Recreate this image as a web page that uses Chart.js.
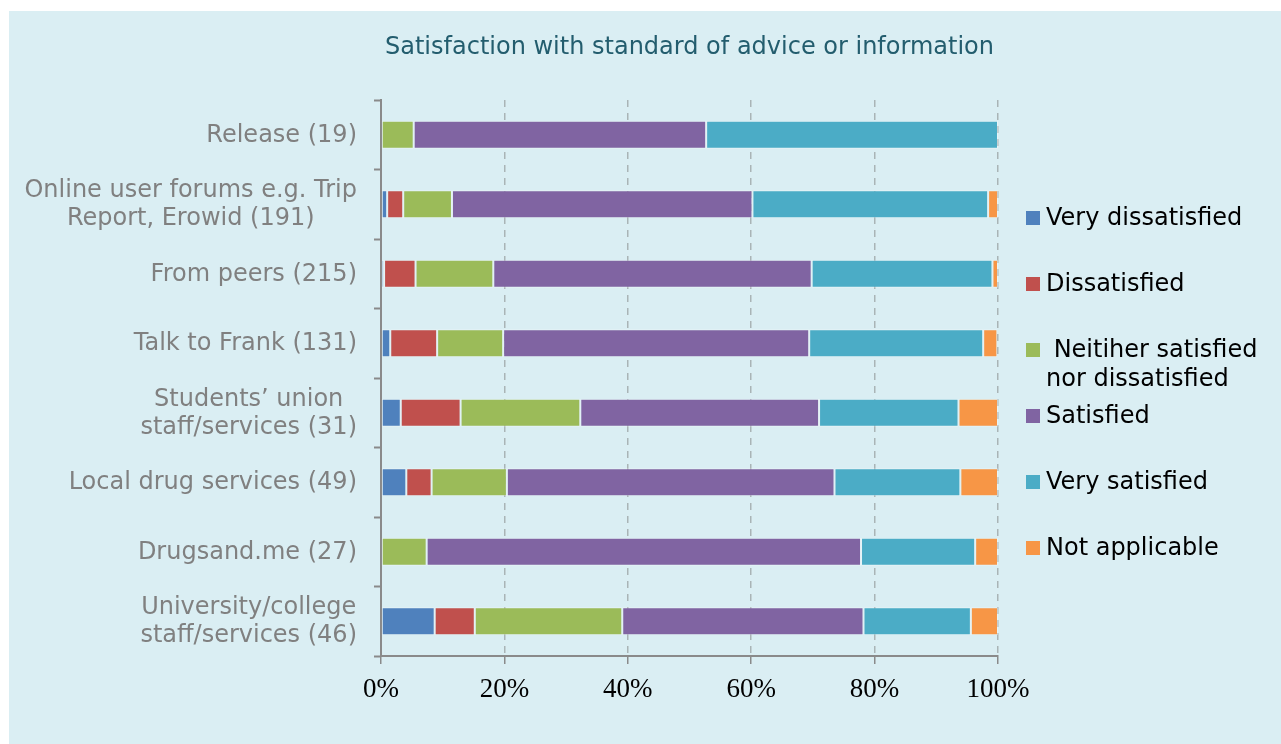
<!DOCTYPE html>
<html>
<head>
<meta charset="utf-8">
<script src="https://cdn.jsdelivr.net/npm/chart.js@4.4.1/dist/chart.umd.min.js"></script>
<style>
    html, body { margin: 0; padding: 0; background: #fff; }
    body { width: 1281px; height: 744px; position: relative; overflow: hidden; }
    #panel { position: absolute; left: 9px; top: 11px; right: 0; bottom: 0; background: #DAEEF3; }
    #chart { position: absolute; left: 0; top: 0; }
    #title {
        position: absolute; left: 381px; width: 617px; top: 32px;
        text-align: center; font: 24px "DejaVu Sans", Verdana, sans-serif; color: #235D6E;
        white-space: nowrap;
    }
    .lg-item { position: absolute; left: 1026px; width: 255px; }
    .lg-box { position: absolute; left: 0; width: 14px; height: 14px; }
    .lg-text {
        position: absolute; left: 20px; width: 234px;
        font: 24px "DejaVu Sans", Verdana, sans-serif; line-height: 29px; color: #000;
        white-space: pre-wrap;
    }
</style>
</head>
<body>
<div id="panel"></div>
<canvas id="chart" width="1281" height="744"></canvas>
<div id="title">Satisfaction with standard of advice or information</div>
<div id="legend"></div>

<script>
document.addEventListener('DOMContentLoaded', function() {
    // Du lieu (phan tram moi muc, doc tu hinh)
    const categories = [
        'Release (19)',
        ['Online user forums e.g. Trip', 'Report, Erowid (191)'],
        'From peers (215)',
        'Talk to Frank (131)',
        ['Students\u2019 union', 'staff/services (31)'],
        'Local drug services (49)',
        'Drugsand.me (27)',
        ['University/college', 'staff/services (46)']
    ];
    const seriesNames = [
        'Very dissatisfied',
        'Dissatisfied',
        ' Neitiher satisfied nor dissatisfied',
        'Satisfied',
        'Very satisfied',
        'Not applicable'
    ];
    const veryDissatisfied = [0, 1.0, 0.5, 1.5, 3.2, 4.1, 0, 8.7];
    const dissatisfied     = [0, 2.6, 5.1, 7.6, 9.7, 4.1, 0, 6.5];
    const neither          = [5.3, 7.9, 12.6, 10.7, 19.4, 12.2, 7.4, 23.9];
    const satisfied        = [47.4, 48.7, 51.6, 49.6, 38.7, 53.1, 70.4, 39.1];
    const verySatisfied    = [47.3, 38.2, 29.3, 28.2, 22.6, 20.4, 18.5, 17.4];
    const notApplicable    = [0, 1.6, 0.9, 2.3, 6.4, 6.1, 3.7, 4.4];
    const xTicks = [0, 20, 40, 60, 80, 100];

    const seriesValues = [veryDissatisfied, dissatisfied, neither, satisfied, verySatisfied, notApplicable];
    const colors = ['#4F81BD', '#C0504D', '#9BBB59', '#8064A2', '#4BACC6', '#F79646'];

    const axisGray = '#8A8A8A';
    const labelFont = '24px "DejaVu Sans", Verdana, sans-serif';

    // Ve nhan truc Y: cac dong can giua nhau, khoi can phai
    const yLabelPlugin = {
        id: 'yLabels',
        afterDraw(chart) {
            const c = chart.ctx;
            const yScale = chart.scales.y;
            const rightX = yScale.right - 24;
            const lineH = 28;
            c.save();
            c.font = labelFont;
            c.fillStyle = '#808080';
            c.textAlign = 'center';
            c.textBaseline = 'middle';
            chart.data.labels.forEach((lab, i) => {
                const lines = Array.isArray(lab) ? lab : [lab];
                const widest = Math.max(...lines.map(l => c.measureText(l).width));
                const cx = rightX - widest / 2;
                const cy = yScale.getPixelForTick(i) + 1;
                lines.forEach((l, k) => {
                    c.fillText(l, cx, cy + (k - (lines.length - 1) / 2) * lineH);
                });
            });
            c.restore();
        }
    };

    const ctx = document.getElementById('chart');
    const chart = new Chart(ctx.getContext('2d'), {
        type: 'bar',
        data: {
            labels: categories,
            datasets: seriesNames.map((name, i) => ({
                label: name,
                data: seriesValues[i],
                backgroundColor: colors[i],
                borderColor: 'rgba(255,255,255,0.35)',
                borderWidth: 1,
                borderSkipped: false,
                categoryPercentage: 0.4,
                barPercentage: 1
            }))
        },
        options: {
            indexAxis: 'y',
            responsive: false,
            animation: false,
            layout: { padding: { left: 0, right: 283, top: 100, bottom: 0 } },
            scales: {
                x: {
                    stacked: true,
                    min: 0,
                    max: 100,
                    afterBuildTicks: (scale) => { scale.ticks = xTicks.map(v => ({ value: v })); },
                    afterFit: (scale) => { scale.height = 88; },
                    ticks: {
                        callback: (v) => v + '%',
                        color: '#000',
                        font: { family: '"Liberation Serif", "Times New Roman", serif', size: 27 },
                        padding: 10,
                        maxRotation: 0
                    },
                    grid: {
                        color: (c) => c.index === 0 ? 'rgba(0,0,0,0)' : '#A9B4B6',
                        lineWidth: 1.5,
                        tickColor: axisGray,
                        tickLength: 8,
                        tickWidth: 1.5
                    },
                    border: { color: axisGray, width: 2, dash: [7, 6] }
                },
                y: {
                    stacked: true,
                    afterFit: (scale) => { scale.width = 381; },
                    ticks: { color: 'rgba(0,0,0,0)', font: { size: 12 } },
                    grid: {
                        drawOnChartArea: false,
                        tickColor: axisGray,
                        tickLength: 7,
                        tickWidth: 2
                    },
                    border: { color: axisGray, width: 2 }
                }
            },
            plugins: {
                legend: { display: false },
                tooltip: { enabled: false }
            }
        },
        plugins: [yLabelPlugin]
    });

    // Chu thich (legend) ben phai
    const legend = document.getElementById('legend');
    chart.data.datasets.forEach((ds, i) => {
        const center = 218 + i * 66;
        const item = document.createElement('div');
        item.className = 'lg-item';
        item.style.top = (center - 7) + 'px';
        item.innerHTML = '<div class="lg-box" style="top:0;background:' + ds.backgroundColor + '"></div>' +
            '<div class="lg-text" style="top:-8px"></div>';
        item.querySelector('.lg-text').textContent = ds.label;
        legend.appendChild(item);
    });
});
</script>
</body>
</html>
